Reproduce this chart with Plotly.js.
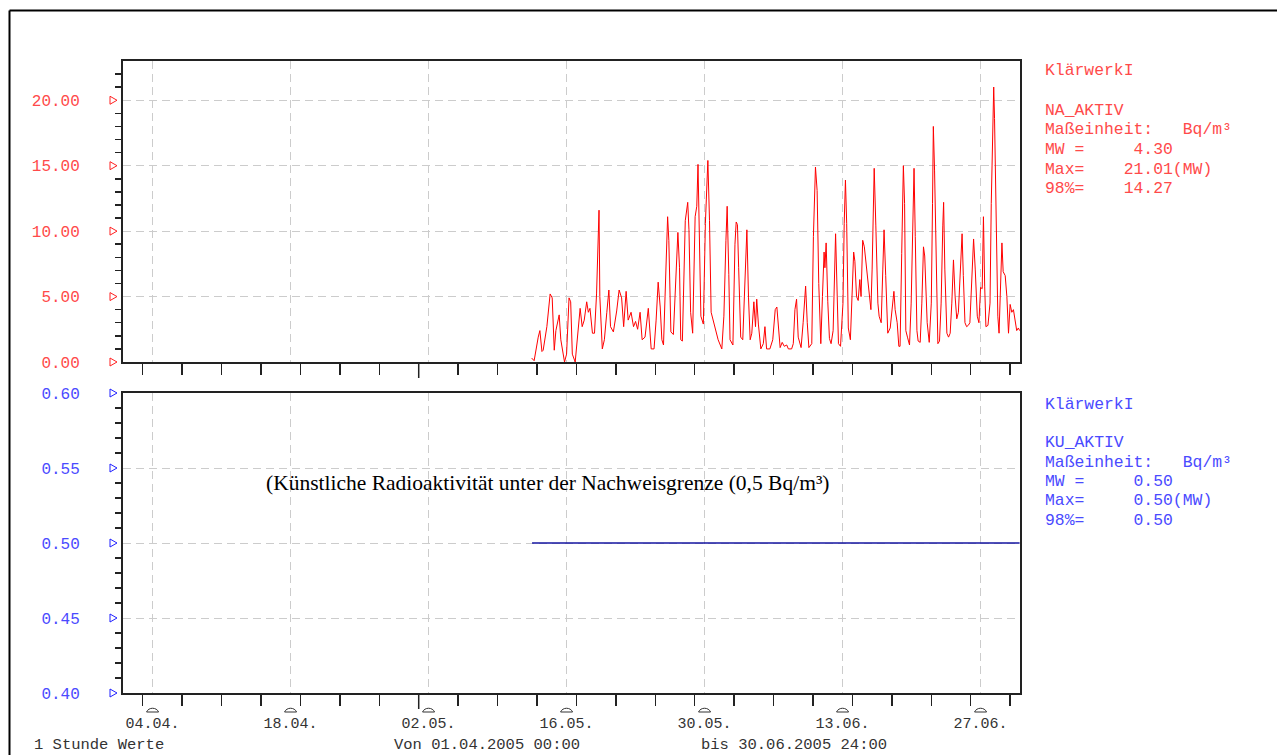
<!DOCTYPE html>
<html><head><meta charset="utf-8">
<script src="https://cdn.plot.ly/plotly-3.0.1.min.js"></script>
<style>html,body{margin:0;padding:0;background:#fff;} #chart{width:1277px;height:755px;}</style>
</head><body><div id="chart"></div>
<script>
// ---- data (hours after 01.04.2005 00:00) ----
const naHours = [995,1001,1011,1015,1020,1023,1032,1040,1045,1050,1054,1062,1066,1075,1080,1086,1090,1094,1101,1106,1113,1118,1123,1129,1133,1137,1143,1148,1153,1159,1161,1167,1172,1178,1183,1187,1194,1202,1208,1214,1219,1225,1230,1237,1243,1248,1253,1259,1264,1271,1279,1286,1293,1298,1303,1308,1312,1316,1321,1326,1329,1334,1340,1346,1351,1355,1358,1362,1369,1375,1378,1382,1387,1393,1397,1400,1403,1407,1413,1418,1424,1428,1432,1437,1443,1449,1458,1463,1468,1471,1475,1478,1485,1490,1493,1496,1499,1504,1509,1514,1519,1523,1527,1531,1536,1540,1543,1547,1553,1559,1563,1567,1575,1582,1588,1592,1596,1600,1605,1610,1616,1620,1628,1632,1636,1640,1644,1651,1656,1662,1666,1670,1677,1681,1686,1690,1694,1699,1703,1707,1709,1712,1716,1720,1724,1729,1735,1738,1742,1747,1753,1756,1759,1762,1766,1771,1776,1779,1782,1786,1790,1794,1797,1801,1805,1809,1815,1821,1824,1829,1833,1838,1841,1846,1850,1853,1857,1862,1868,1872,1877,1880,1885,1889,1892,1896,1900,1903,1906,1910,1915,1919,1923,1926,1929,1933,1936,1941,1945,1949,1952,1955,1958,1963,1968,1971,1973,1976,1980,1984,1988,1992,1996,1998,2001,2006,2010,2014,2018,2022,2026,2030,2034,2038,2043,2046,2050,2054,2058,2062,2066,2071,2075,2080,2084,2088,2092,2095,2098,2101,2106,2111,2114,2118,2120,2122,2126,2130,2133,2137,2140,2143,2148,2152,2156,2160,2164,2168,2172,2176,2180,2183];
const naValues = [0.3,0.1,1.9,2.4,0.8,0.9,2.7,5.2,4.9,0.9,2.4,3.6,1.7,0.0,0.6,4.9,4.6,0.6,0.0,1.7,4.1,2.7,3.2,4.6,3.8,4.1,2.2,2.2,5.2,11.6,5.0,1.0,1.7,3.8,5.5,2.7,2.3,3.9,5.5,4.9,2.7,5.4,3.2,3.8,2.7,3.1,2.5,3.8,1.7,1.9,4.1,1.0,1.0,3.2,6.1,4.2,1.7,1.3,6.2,11.1,9.3,2.3,2.1,6.7,9.9,7.2,1.7,1.6,10.8,12.2,10.1,3.8,2.2,11.1,11.9,15.1,9.3,3.5,2.9,10.6,15.4,10.8,3.8,3.2,2.5,1.7,1.0,3.5,9.3,11.9,6.7,1.7,1.3,9.0,10.7,10.5,7.2,1.9,1.7,6.7,10.1,4.9,1.7,2.2,4.6,2.7,4.8,2.9,1.0,1.4,2.7,1.0,1.0,1.7,4.0,4.2,2.2,1.1,1.5,1.2,1.3,1.0,1.0,1.4,4.0,4.8,1.9,1.1,3.0,5.8,3.0,1.1,1.4,9.6,14.9,13.1,6.0,1.4,5.0,8.4,7.2,9.1,4.6,1.8,1.4,2.4,9.8,5.8,1.4,1.2,4.5,10.6,13.9,10.6,2.6,1.7,5.8,8.4,7.7,5.0,4.7,6.3,5.0,9.3,8.8,7.6,5.8,4.0,7.1,14.8,10.4,4.5,3.5,3.0,7.1,10.1,6.6,2.2,2.6,4.0,5.4,4.0,3.0,1.2,1.2,8.3,15.0,12.1,2.4,1.9,1.3,4.5,10.4,14.8,9.6,2.4,1.6,1.5,4.5,8.8,8.1,5.6,3.0,1.5,4.5,12.1,18.0,14.6,7.1,1.4,1.6,4.5,10.4,12.2,7.1,2.2,1.9,2.2,4.5,7.8,5.0,3.3,3.8,6.7,9.8,6.6,3.0,2.7,2.8,3.0,5.6,9.4,7.1,3.5,3.0,5.7,5.6,11.1,5.8,2.7,2.8,4.5,12.1,19.8,21.01,18.6,9.6,3.5,2.2,7.1,9.1,6.9,6.6,5.0,2.2,4.4,3.8,4.0,3.0,2.4,2.6,2.4];
const kuHours = [996, 2183];
const kuValues = [0.5, 0.5];
const naTicks = [0, 5, 10, 15, 20];
const kuTicks = [0.40, 0.45, 0.50, 0.55, 0.60];
const gridDates = ['2005-04-04','2005-04-18','2005-05-02','2005-05-16','2005-05-30','2005-06-13','2005-06-27'];
const naLegend = ['KlärwerkI','','NA_AKTIV','Maßeinheit:   Bq/m³','MW =     4.30','Max=    21.01(MW)','98%=    14.27'];
const kuLegend = ['KlärwerkI','','KU_AKTIV','Maßeinheit:   Bq/m³','MW =     0.50','Max=     0.50(MW)','98%=     0.50'];
const footer = ['1 Stunde Werte','Von 01.04.2005 00:00','bis 30.06.2005 24:00'];
const noteText = '(Künstliche Radioaktivität unter der Nachweisgrenze (0,5 Bq/m³)';

// ---- helpers ----
const DAY = 86400000;
const T0 = Date.UTC(2005, 3, 1);
function h2d(h){ return new Date(T0 + h*3600000).toISOString().slice(0,16).replace('T',' '); }
const nb = s => s.replace(/ /g, '\u00a0');
const MONO = '"Liberation Mono", "Courier New", monospace';
const RED = '#ff4a4a', BLUE = '#4a4aff';
const W = 1277, H = 755, L = 123, R = 1020, TOP = 61, BOT = 693;
const px2x = p => (p - L) / (R - L);
const py2y = p => (BOT - p) / (BOT - TOP);
const NA_RANGE = [0, 23], KU_RANGE = [0.4, 0.6];
const NA_DOM = [py2y(362), 1], KU_DOM = [0, py2y(393)];
const toPaper = (v, r, d) => d[0] + (v - r[0]) / (r[1] - r[0]) * (d[1] - d[0]);
// minor y ticks between the labelled ones
function minorVals(lo, hi, step, majors){
  const out = [];
  for(let i = 1; lo + i*step < hi - step/2; i++){
    const v = +(lo + i*step).toFixed(4);
    if(!majors.some(m => Math.abs(m - v) < step/10)) out.push(v);
  }
  return out;
}

const traces = [
  {x: naHours.map(h2d), y: naValues, xaxis:'x2', yaxis:'y2', mode:'lines', line:{color:'#ff0000', width:1}, hoverinfo:'skip'},
  {x: kuHours.map(h2d), y: kuValues, xaxis:'x', yaxis:'y', mode:'lines', line:{color:'#1414a0', width:1.3}, hoverinfo:'skip'}
];

const gridStyle = {showgrid:true, gridcolor:'#cccccc', gridwidth:1, griddash:'8px,5px'};
const xBase = Object.assign({
  type:'date', range:['2005-04-01 00:00','2005-07-01 00:00'],
  tick0:'2005-04-04', dtick:14*DAY, tickformat:'%d.%m.', ticks:'',
  showline:true, linecolor:'#222', linewidth:2, mirror:true, zeroline:false,
  tickfont:{family:MONO, size:15, color:'#333'}, ticklabelstandoff:15,
  minor:{ticks:'outside', ticklen:11, tickwidth:1.5, tickcolor:'#222', tick0:'2005-04-03', dtick:4*DAY, showgrid:false}
}, gridStyle);

const shapes = [];
// outer frame
shapes.push({type:'line', xref:'paper', yref:'paper', x0:px2x(9.5), x1:px2x(9.5), y0:py2y(10.5), y1:py2y(760), line:{color:'#000', width:2}});
shapes.push({type:'line', xref:'paper', yref:'paper', x0:px2x(9.5), x1:px2x(1290), y0:py2y(10.5), y1:py2y(10.5), line:{color:'#000', width:2}});
// triangles at major y ticks (paper refs so they are not clipped at the panel edges)
const tri = 'M-13,4 L-13,-4 L-6,0 Z';
naTicks.forEach(v => shapes.push({type:'path', xref:'paper', xsizemode:'pixel', xanchor:0, yref:'paper', ysizemode:'pixel',
  yanchor:toPaper(v, NA_RANGE, NA_DOM), path:tri, line:{color:'#ff2020', width:1}}));
kuTicks.forEach(v => shapes.push({type:'path', xref:'paper', xsizemode:'pixel', xanchor:0, yref:'paper', ysizemode:'pixel',
  yanchor:toPaper(v, KU_RANGE, KU_DOM), path:tri, line:{color:'#2020ff', width:1}}));
// carets above date labels
gridDates.forEach(d => shapes.push({type:'path', xref:'x', xsizemode:'pixel', xanchor:d, yref:'paper', ysizemode:'pixel', yanchor:py2y(712),
  path:'M-6,0 C-4,5 4,5 6,0 Z', line:{color:'#333', width:1}}));
// longer month tick (01.05.)
['x2','x'].forEach((xr,i) => shapes.push({type:'line', xref:xr, x0:'2005-05-01', x1:'2005-05-01', yref:(i===0?'y2':'y')+' domain', ysizemode:'pixel', yanchor:0, y0:0, y1:-16, line:{color:'#222', width:1.5}}));

const annotations = [];
naLegend.forEach((t,i) => { if(t) annotations.push({xref:'paper', yref:'paper', x:px2x(1043), y:py2y(71 + i*19.6), xanchor:'left', yanchor:'middle', showarrow:false, text:nb(t), font:{family:MONO, size:16.4, color:RED}}); });
kuLegend.forEach((t,i) => { if(t) annotations.push({xref:'paper', yref:'paper', x:px2x(1043), y:py2y(404 + i*19.4), xanchor:'left', yanchor:'middle', showarrow:false, text:nb(t), font:{family:MONO, size:16.4, color:BLUE}}); });
[[32,0],[392,1],[699,2]].forEach(([p,i]) => annotations.push({xref:'paper', yref:'paper', x:px2x(p), y:py2y(745), xanchor:'left', yanchor:'middle', showarrow:false, text:nb(footer[i]), font:{family:MONO, size:15.5, color:'#333'}}));
annotations.push({xref:'paper', yref:'paper', x:px2x(547), y:py2y(483), xanchor:'center', yanchor:'middle', showarrow:false, text:noteText, font:{family:'"Liberation Serif", "Times New Roman", serif', size:21.5, color:'#000'}});

const yBase = {ticks:'', tickformat:'.2f', showline:true, linecolor:'#222', linewidth:2, mirror:true, zeroline:false, ticklabelstandoff:38};
const layout = {
  width:W, height:H, margin:{l:L, r:W-R, t:TOP, b:H-BOT}, paper_bgcolor:'#fff', plot_bgcolor:'#fff', showlegend:false,
  font:{family:MONO, size:16, color:'#333'},
  xaxis: Object.assign({}, xBase, {anchor:'y'}),
  xaxis2: Object.assign({}, xBase, {anchor:'y2', matches:'x', showticklabels:false}),
  yaxis: Object.assign({domain:KU_DOM, range:KU_RANGE, tickvals:kuTicks,
    tickfont:{family:MONO, size:16, color:BLUE},
    minor:{ticks:'outside', ticklen:6, tickwidth:1.5, tickcolor:'#222', tickmode:'array', tickvals:minorVals(0.4, 0.6, 0.01, kuTicks), showgrid:false}}, yBase, gridStyle),
  yaxis2: Object.assign({domain:NA_DOM, range:NA_RANGE, tickvals:naTicks,
    tickfont:{family:MONO, size:16, color:RED},
    minor:{ticks:'outside', ticklen:6, tickwidth:1.5, tickcolor:'#222', tickmode:'array', tickvals:minorVals(0, 23.5, 1, naTicks), showgrid:false}}, yBase, gridStyle),
  shapes, annotations
};
Plotly.newPlot('chart', traces, layout, {staticPlot:true, displayModeBar:false});
</script></body></html>
